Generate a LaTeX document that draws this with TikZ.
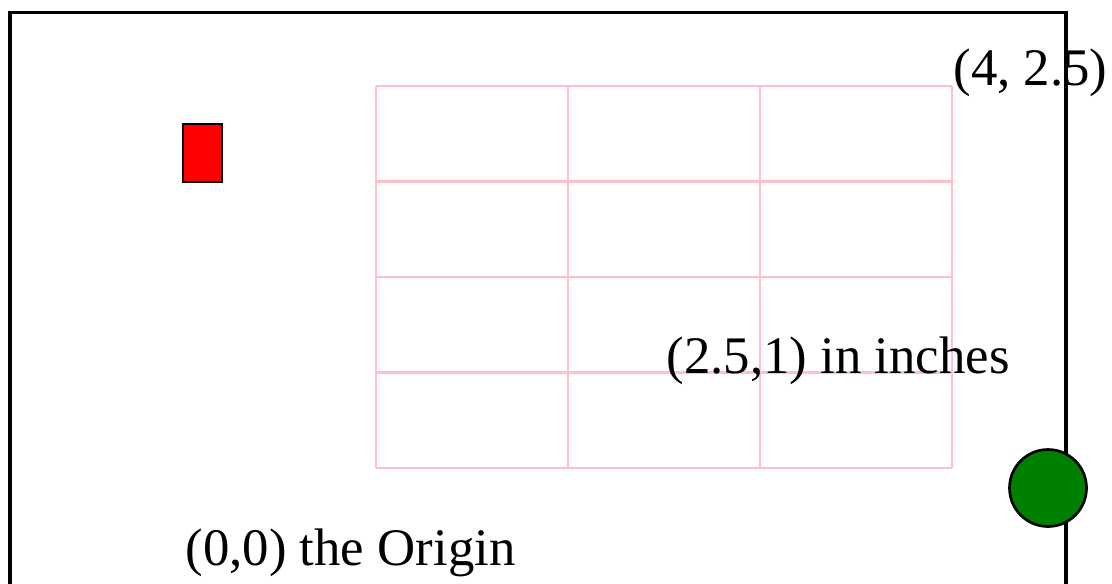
\documentclass[tikz,border=0pt]{standalone}
\usepackage{fontspec}
\setmainfont{Liberation Serif}
\definecolor{gridpink}{RGB}{255,192,203}
\definecolor{dotgreen}{RGB}{0,128,0}
\begin{document}
\begin{tikzpicture}[x=0.375pt,y=-0.375pt,
    lbl/.style={anchor=base west,inner sep=0pt,font=\fontsize{19.8}{24}\selectfont}]
  \useasboundingbox (0,0) rectangle (1112,583);
  \clip (0,0) rectangle (1112,583);
  % ---- frame ----
  \draw[line width=1.2pt] (10,620) -- (10,12.5) -- (1066,12.5) -- (1066,620);
  % ---- grid ----
  \foreach \x in {376,568,760,952} {
    \draw[gridpink,line width=0.85pt] (\x,86) -- (\x,468);
  }
  \foreach \y in {86,181.5,277,372.5,468} {
    \draw[gridpink,line width=0.85pt] (376,\y) -- (952,\y);
  }
  % ---- shapes ----
  \draw[fill=red,line width=1pt] (183,124) rectangle (222,182);
  \draw[fill=dotgreen,line width=1pt] (1048,488) circle (38.5);
  % ---- labels ----
  \node[lbl] (origin) at (185,565) {(0,0) the Origin};
  \node[lbl] (inches) at (666,373) {(2.5,1) in inches};
  \node[lbl] (corner) at (953,85) {(4, 2.5)};
\end{tikzpicture}
\end{document}
